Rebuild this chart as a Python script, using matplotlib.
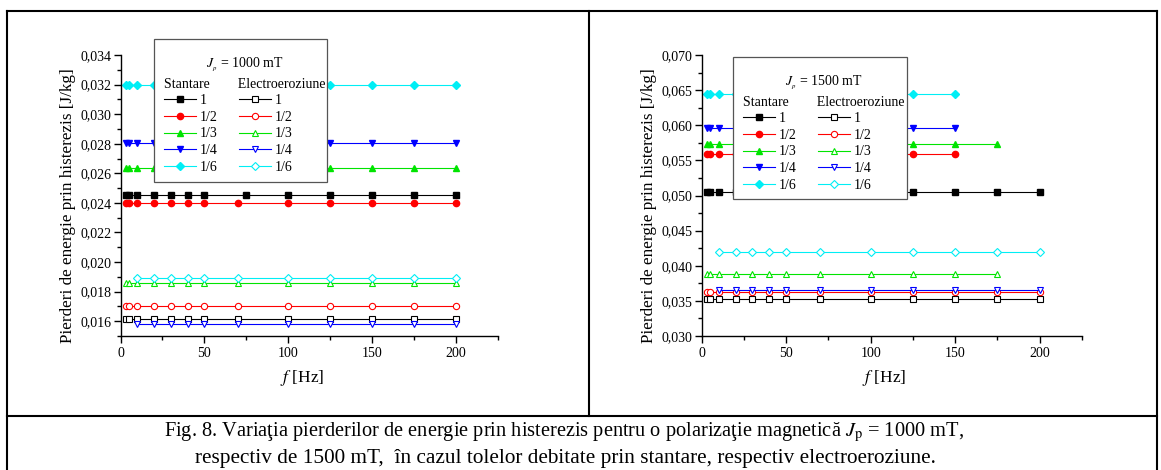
import matplotlib
matplotlib.use("Agg")
import matplotlib.pyplot as plt
from matplotlib.lines import Line2D
from matplotlib.patches import Rectangle
from matplotlib.ticker import MultipleLocator, FuncFormatter

plt.rcParams['font.family'] = 'Liberation Serif'
plt.rcParams['mathtext.fontset'] = 'stix'

# ---- data: Jp = 1000 mT ----
f_a = [3, 5, 10, 20, 30, 40, 50, 70, 100, 125, 150, 175, 200]
f_a_black = [3, 5, 10, 20, 30, 40, 50, 75, 100, 125, 150, 175, 200]
f_a_late = [10, 20, 30, 40, 50, 70, 100, 125, 150, 175, 200]

st_1000_1 = [0.02452, 0.02452, 0.02452, 0.02452, 0.02452, 0.02452, 0.02452, 0.02452, 0.02452, 0.02452, 0.02452, 0.02452, 0.02452]
st_1000_2 = [0.0240, 0.0240, 0.0240, 0.0240, 0.0240, 0.0240, 0.0240, 0.0240, 0.0240, 0.0240, 0.0240, 0.0240, 0.0240]
st_1000_3 = [0.02634, 0.02634, 0.02634, 0.02634, 0.02634, 0.02634, 0.02634, 0.02634, 0.02634, 0.02634, 0.02634, 0.02634, 0.02634]
st_1000_4 = [0.02803, 0.02803, 0.02803, 0.02803, 0.02803, 0.02803, 0.02803, 0.02803, 0.02803, 0.02803, 0.02803, 0.02803, 0.02803]
st_1000_6 = [0.03197, 0.03197, 0.03197, 0.03197, 0.03197, 0.03197, 0.03197, 0.03197, 0.03197, 0.03197, 0.03197, 0.03197, 0.03197]

el_1000_1 = [0.01617, 0.01617, 0.01617, 0.01617, 0.01617, 0.01617, 0.01617, 0.01617, 0.01617, 0.01617, 0.01617, 0.01617, 0.01617]
el_1000_2 = [0.01705, 0.01705, 0.01705, 0.01705, 0.01705, 0.01705, 0.01705, 0.01705, 0.01705, 0.01705, 0.01705, 0.01705, 0.01705]
el_1000_3 = [0.01855, 0.01855, 0.01855, 0.01855, 0.01855, 0.01855, 0.01855, 0.01855, 0.01855, 0.01855, 0.01855, 0.01855, 0.01855]
el_1000_4 = [0.01578, 0.01578, 0.01578, 0.01578, 0.01578, 0.01578, 0.01578, 0.01578, 0.01578, 0.01578, 0.01578]
el_1000_6 = [0.01893, 0.01893, 0.01893, 0.01893, 0.01893, 0.01893, 0.01893, 0.01893, 0.01893, 0.01893, 0.01893]

# ---- data: Jp = 1500 mT ----
f_b = [3, 5, 10, 20, 30, 40, 50, 70, 100, 125, 150, 175, 200]
f_b_150 = [3, 5, 10, 20, 30, 40, 50, 70, 100, 125, 150]
f_b_175 = [3, 5, 10, 20, 30, 40, 50, 70, 100, 125, 150, 175]
f_b_late = [10, 20, 30, 40, 50, 70, 100, 125, 150, 175, 200]

st_1500_1 = [0.05056, 0.05056, 0.05056, 0.05056, 0.05056, 0.05056, 0.05056, 0.05056, 0.05056, 0.05056, 0.05056, 0.05056, 0.05056]
st_1500_2 = [0.05592, 0.05592, 0.05592, 0.05592, 0.05592, 0.05592, 0.05592, 0.05592, 0.05592, 0.05592, 0.05592]
st_1500_3 = [0.05734, 0.05734, 0.05734, 0.05734, 0.05734, 0.05734, 0.05734, 0.05734, 0.05734, 0.05734, 0.05734, 0.05734]
st_1500_4 = [0.05966, 0.05966, 0.05966, 0.05966, 0.05966, 0.05966, 0.05966, 0.05966, 0.05966, 0.05966, 0.05966]
st_1500_6 = [0.0645, 0.0645, 0.0645, 0.0645, 0.0645, 0.0645, 0.0645, 0.0645, 0.0645, 0.0645, 0.0645]

el_1500_1 = [0.03533, 0.03533, 0.03533, 0.03533, 0.03533, 0.03533, 0.03533, 0.03533, 0.03533, 0.03533, 0.03533, 0.03533, 0.03533]
el_1500_2 = [0.03623, 0.03623, 0.03623, 0.03623, 0.03623, 0.03623, 0.03623, 0.03623, 0.03623, 0.03623, 0.03623, 0.03623, 0.03623]
el_1500_3 = [0.03889, 0.03889, 0.03889, 0.03889, 0.03889, 0.03889, 0.03889, 0.03889, 0.03889, 0.03889, 0.03889, 0.03889]
el_1500_4 = [0.03651, 0.03651, 0.03651, 0.03651, 0.03651, 0.03651, 0.03651, 0.03651, 0.03651, 0.03651, 0.03651]
el_1500_6 = [0.04202, 0.04202, 0.04202, 0.04202, 0.04202, 0.04202, 0.04202, 0.04202, 0.04202, 0.04202, 0.04202]

labels = ['1', '1/2', '1/3', '1/4', '1/6']
colors = ['#000000', '#ff0000', '#00e400', '#0000ff', '#00eef5']
markers = ['s', 'o', '^', 'v', 'D']

panels = [
    dict(title='$J_{_p}$ = 1000 mT',
         st=[(f_a_black, st_1000_1), (f_a, st_1000_2), (f_a, st_1000_3), (f_a, st_1000_4), (f_a, st_1000_6)],
         el=[(f_a, el_1000_1), (f_a, el_1000_2), (f_a, el_1000_3), (f_a_late, el_1000_4), (f_a_late, el_1000_6)],
         ylim=(0.015, 0.034), major=0.002, minor=0.001,
         rect=[120.5, 55, 498, 336], leg=(154, 39, 327, 182)),
    dict(title='$J_{_p}$ = 1500 mT',
         st=[(f_b, st_1500_1), (f_b_150, st_1500_2), (f_b_175, st_1500_3), (f_b_150, st_1500_4), (f_b_150, st_1500_6)],
         el=[(f_b, el_1500_1), (f_b, el_1500_2), (f_b_175, el_1500_3), (f_b_late, el_1500_4), (f_b_late, el_1500_6)],
         ylim=(0.030, 0.070), major=0.005, minor=0.0025,
         rect=[701.7, 55, 1082, 336], leg=(733, 57, 907, 199)),
]

W, H = 1161, 470
fig = plt.figure(figsize=(W / 100, H / 100), dpi=100)

comma = FuncFormatter(lambda v, p: f"{v:.3f}".replace('.', ','))

for p in panels:
    x0, y0, x1, y1 = p['rect']
    ax = fig.add_axes([x0 / W, 1 - y1 / H, (x1 - x0) / W, (y1 - y0) / H])
    handles = []
    for (x, y), c, m in zip(p['st'], colors, markers):
        h, = ax.plot(x, y, '-', color=c, lw=0.8, marker=m, ms=4.5, mfc=c, mec=c)
        handles.append(h)
    for (x, y), c, m in zip(p['el'], colors, markers):
        h, = ax.plot(x, y, '-', color=c, lw=0.8, marker=m, ms=4.5, mfc='white', mec=c, mew=0.8)
        handles.append(h)

    ax.set_xlim(0, 225)
    ax.set_ylim(*p['ylim'])
    ax.xaxis.set_major_locator(MultipleLocator(50))
    ax.xaxis.set_minor_locator(MultipleLocator(25))
    ax.yaxis.set_major_locator(MultipleLocator(p['major']))
    ax.yaxis.set_minor_locator(MultipleLocator(p['minor']))
    ax.yaxis.set_major_formatter(comma)
    for s in ['top', 'right']:
        ax.spines[s].set_visible(False)
    for s in ['left', 'bottom']:
        ax.spines[s].set_linewidth(1.0)
    ax.tick_params(which='major', length=5, width=1.0, labelsize=10)
    ax.tick_params(which='minor', length=3, width=1.0)
    ax.tick_params(axis='y', pad=1.5)
    ax.tick_params(axis='x', pad=3)

    ax.set_ylabel('Pierderi de energie prin histerezis [J/kg]', fontsize=12.3)
    ax.yaxis.set_label_coords(-0.117, 0.4626)
    ax.set_xlabel('$f$ [Hz]', fontsize=12.5)
    ax.xaxis.set_label_coords(0.48, -0.115)

    # legend frame (box reaches above the axes, as in the original)
    bx0, by0, bx1, by1 = p['leg']
    ax.add_patch(Rectangle((bx0 / W, 1 - by1 / H), (bx1 - bx0) / W, (by1 - by0) / H,
                           transform=fig.transFigure, facecolor='white', edgecolor='#555555',
                           lw=0.9, zorder=4.9, clip_on=False))
    title = p['title'] + '\nStantare' + ' ' * 8 + 'Electroeroziune'
    leg = ax.legend(handles, labels + labels, ncol=2, title=title,
                    loc='upper left', bbox_to_anchor=((bx0 + 10) / W, 1 - (by0 + 16.5) / H),
                    bbox_transform=fig.transFigure, borderaxespad=0, borderpad=0,
                    fontsize=10, title_fontsize=10, frameon=False,
                    handlelength=2.3, handletextpad=0.3, columnspacing=1.5,
                    labelspacing=0.26, numpoints=1, alignment='left')
    leg.get_title().set_multialignment('center')
    leg.get_title().set_linespacing(1.45)

# frame of the table and caption
lw = 1.5
fig.add_artist(Line2D([7 / W, 1157 / W], [1 - 11 / H, 1 - 11 / H], color='black', lw=lw))
fig.add_artist(Line2D([7 / W, 7 / W], [0, 1 - 11 / H], color='black', lw=lw))
fig.add_artist(Line2D([1157 / W, 1157 / W], [0, 1 - 11 / H], color='black', lw=lw))
fig.add_artist(Line2D([589 / W, 589 / W], [1 - 416 / H, 1 - 11 / H], color='black', lw=lw))
fig.add_artist(Line2D([7 / W, 1157 / W], [1 - 416 / H, 1 - 416 / H], color='black', lw=lw))

fig.text(564 / W, 1 - 432 / H,
         'Fig. 8. Variaţia pierderilor de energie prin histerezis pentru o polarizaţie magnetică '
         '$J_{\\mathrm{p}}$ = 1000 mT,', fontsize=14.7, ha='center', va='center')
fig.text(565 / W, 1 - 458 / H,
         'respectiv de 1500 mT,  în cazul tolelor debitate prin stantare, respectiv electroeroziune.',
         fontsize=15.3, ha='center', va='center')

fig.savefig('out.png', dpi=100)
